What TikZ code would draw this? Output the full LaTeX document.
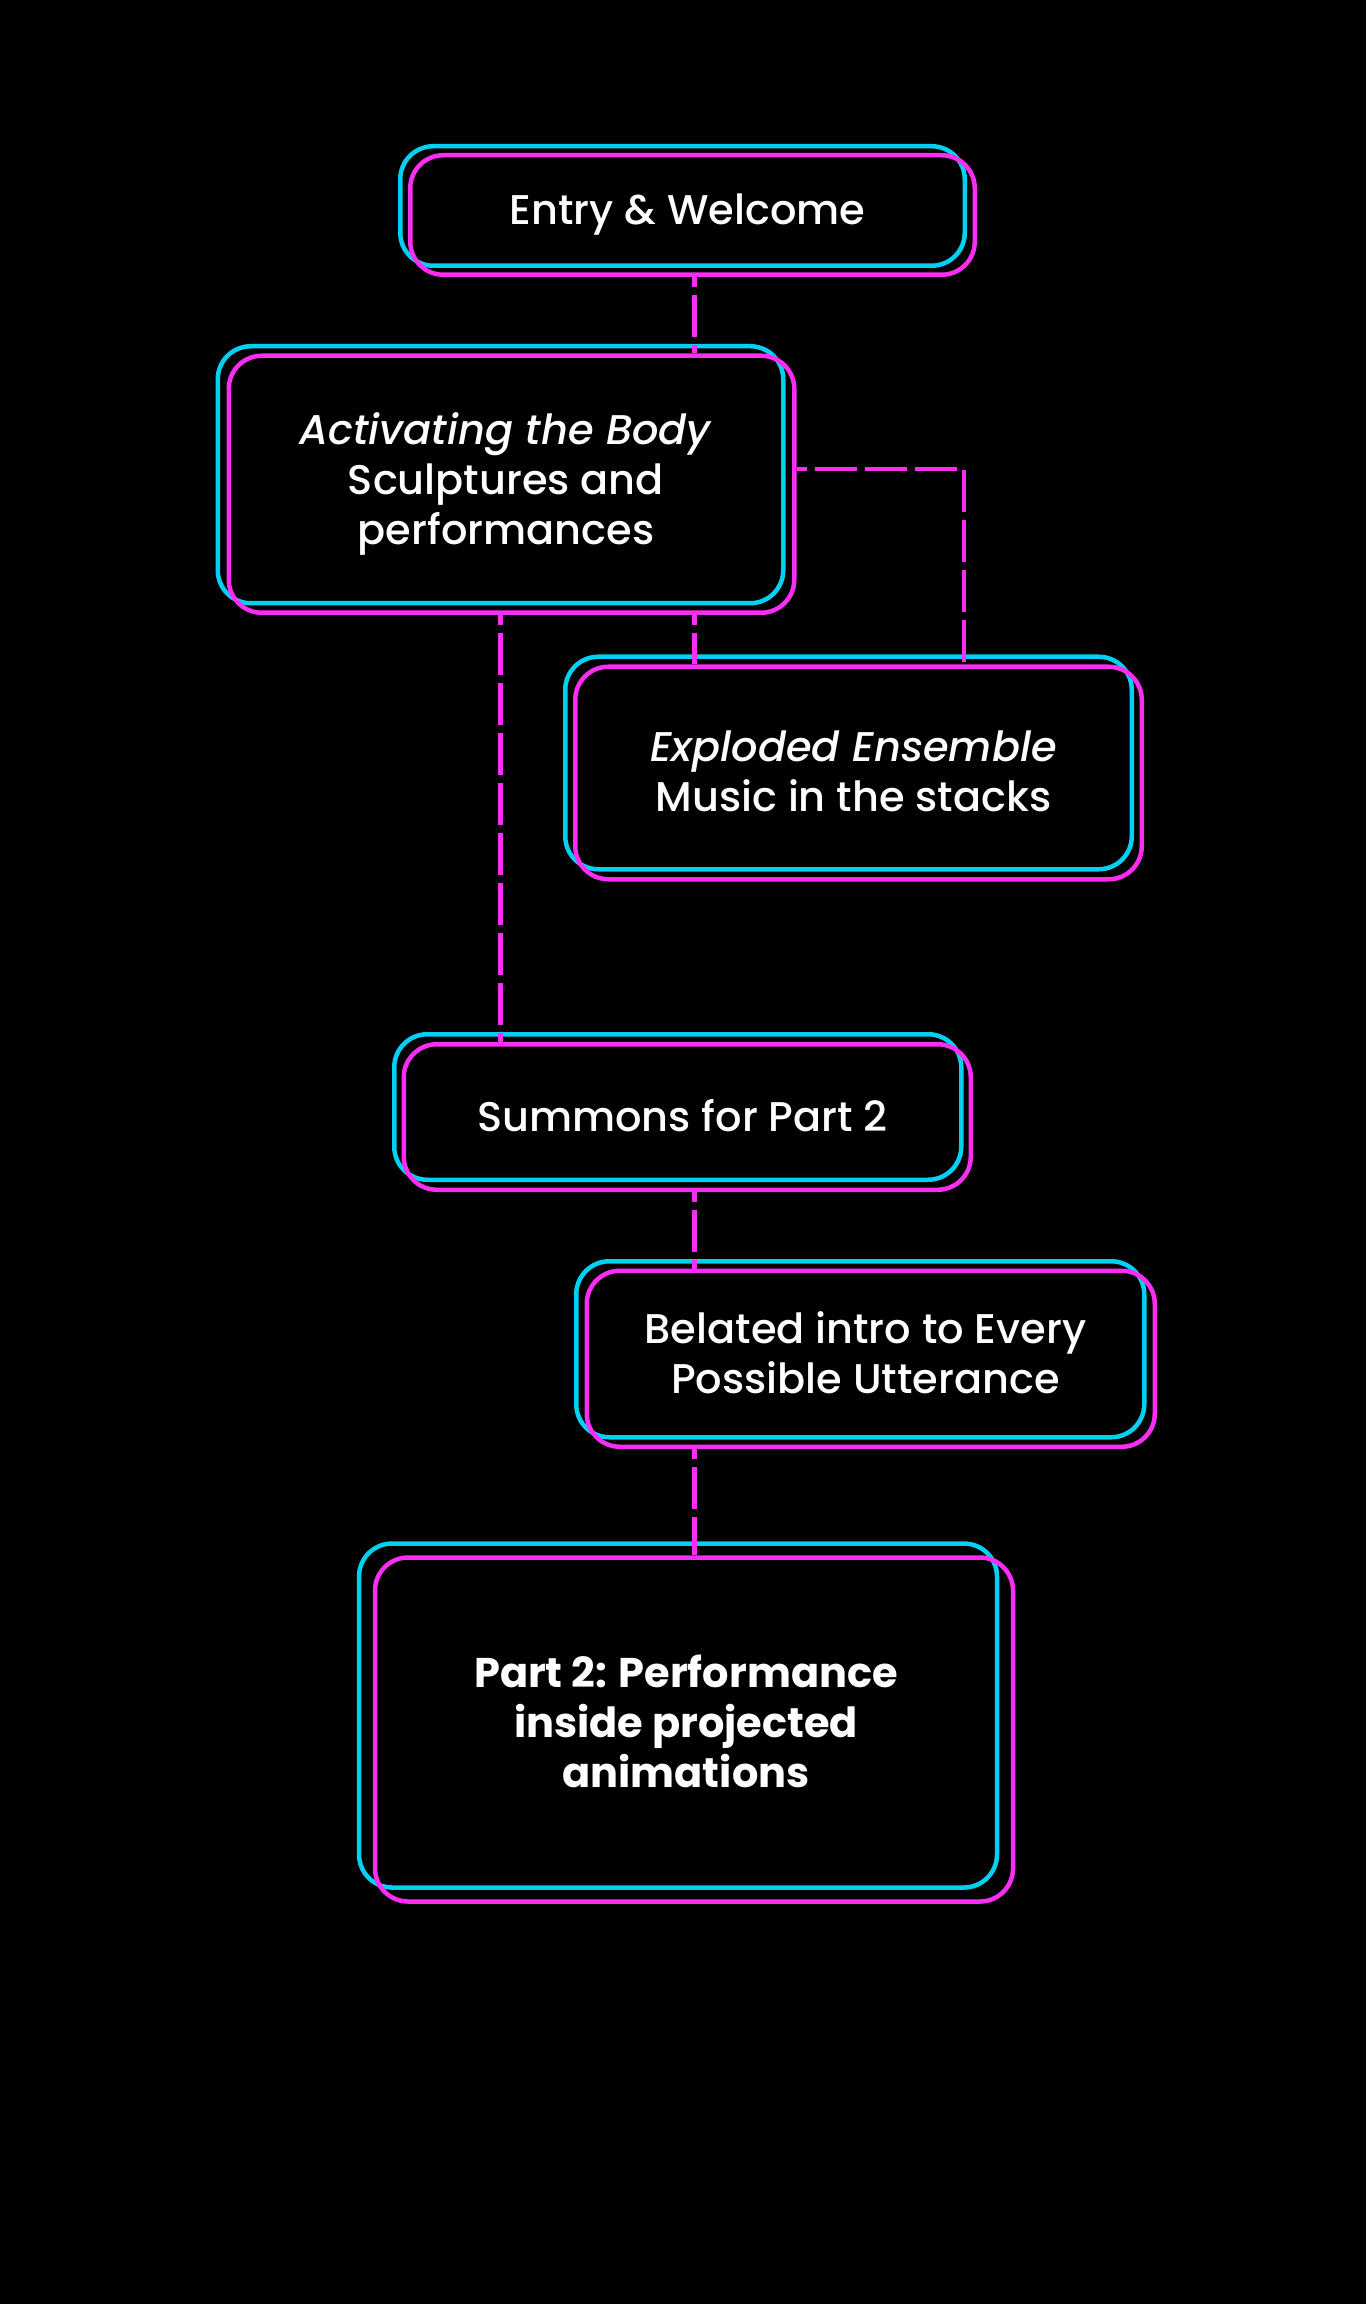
\documentclass[tikz,border=0pt]{standalone}
\usepackage{fontspec}
\setmainfont{Poppins}[UprightFont=* Medium, ItalicFont=* Medium Italic, BoldFont=* Bold]
\usepackage{tikz}
\usetikzlibrary{calc,positioning}
\definecolor{NeonCyan}{HTML}{00D0F2}
\definecolor{NeonPink}{HTML}{FA2EF2}
\definecolor{Night}{HTML}{000000}

\begin{document}
\begin{tikzpicture}[
  x=0.01cm, y=-0.01cm,
  rim/.style={draw=#1, line width=1.28pt, rounded corners=0.33cm, inner sep=0pt},
  lbl/.style={font=\fontsize{11.8}{14.2}\selectfont, text=white, align=center, inner sep=0pt},
  link/.style={draw=NeonPink, line width=1.28pt, dash pattern=on 0.42cm off 0.08cm, dash phase=0.32cm},
]
\fill[Night] (0,0) rectangle (1366,2304);
\useasboundingbox (0,0) rectangle (1366,2304);
\foreach \n/\x/\y/\w/\h/\dx/\dy/\ty/\lbltext in {
  entry/687.5/210.5/564.5/119.5/10/9/4/{Entry \& Welcome},
  body/506/479.5/565.5/257/11/9.5/4.5/{\textit{Activating the Body}\\Sculptures and\\performances},
  ensemble/853.5/768/566.5/212.5/10/10/3/{\textit{Exploded Ensemble}\\Music in the stacks},
  summons/682.5/1112/567/145.5/9.5/10/4/{Summons for Part 2},
  belated/865.5/1354/568/176/10.5/9.5/-1/{Belated intro to Every\\Possible Utterance},
  part2/686/1722.5/638/344/16/14/-1/{\bfseries Part 2: Performance\\\bfseries inside projected\\\bfseries animations}%
}{
  \node[rim=NeonCyan, minimum width=\w*0.01cm, minimum height=\h*0.01cm] (\n-c) at ($(\x,\y)+(-\dx/2,-\dy/2)$) {};
  \node[rim=NeonPink, minimum width=\w*0.01cm, minimum height=\h*0.01cm] (\n-m) at ($(\x,\y)+(\dx/2,\dy/2)$) {};
  \node[lbl] (\n) at ($(\x,\y)+(0,\ty)$) {\lbltext};
}
% dashed links
\coordinate (spine) at (694.5,0);
\coordinate (elbow) at (964,469);
\draw[link] (spine |- entry-m.south) -- (spine |- body-m.north);
\draw[link] (spine |- body-m.south) -- (spine |- ensemble-m.north);
\draw[link] (body-c.south |- body-m.south) -- (body-c.south |- summons-m.north);
\draw[link] (body-m.east |- elbow) -- (elbow) -- (elbow |- ensemble-m.north);
\draw[link] (spine |- summons-m.south) -- (spine |- belated-m.north);
\draw[link] (spine |- belated-m.south) -- (spine |- part2-m.north);
\end{tikzpicture}
\end{document}
